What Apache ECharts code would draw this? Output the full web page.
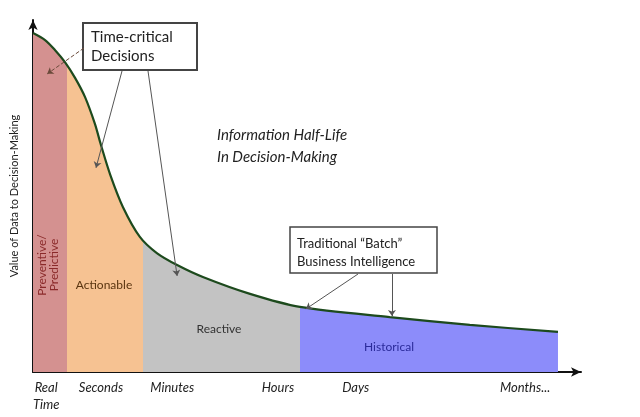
<!DOCTYPE html>
<html>
<head>
<meta charset="utf-8">
<script src="https://cdn.jsdelivr.net/npm/echarts@6/dist/echarts.min.js"></script>
<style>
  html, body { margin: 0; padding: 0; background: #fff; }
  #halfLifeView { width: 640px; height: 417px; }
</style>
</head>
<body>
<div id="halfLifeView"></div>
<script>
// curve of value vs. time (x: 0..100 along the time axis, y: 0..100 value)
const curveX = [0, 2.2, 4.0, 5.8, 7.7, 9.5, 11.3, 12.4, 14.1, 16.4, 19.5, 22.6, 26.3, 31.0, 39.6, 48.7, 65.1, 79.7, 95.8]
const curveY = [96.3, 94.3, 91.5, 88.1, 83.5, 78.1, 70.5, 64.5, 56.0, 46.9, 38.4, 33.8, 30.4, 27.0, 22.2, 18.5, 15.6, 13.4, 11.4]

// band edges along x (Preventive, Actionable, Reactive, Historical)
const bandEdges = [0, 6.2, 20.1, 48.7, 95.8]
const bandColors = ['#d49190', '#f6c292', '#c3c3c3', '#8c8cfa']

// time axis labels
const tickNames = ['Real\nTime', 'Seconds', 'Minutes', 'Hours', 'Days', 'Months...']
const tickPos = [2.4, 12.4, 25.4, 44.7, 58.9, 89.8]

const font = 'Lato, "Open Sans", sans-serif'

let chart = echarts.init(document.getElementById('halfLifeView'))
const curve = curveX.map((x, i) => [x, curveY[i]])

let option = {
  animation: false,
  grid: { left: 33, right: 59, top: 20, bottom: 45 },
  xAxis: {
    type: 'value',
    min: 0,
    max: 100,
    splitLine: { show: false },
    axisLine: { lineStyle: { color: '#111', width: 2 }, symbol: ['none', 'arrow'], symbolSize: [7, 10] },
    axisTick: { show: false },
    axisLabel: {
      customValues: tickPos,
      formatter: v => tickNames[tickPos.indexOf(v)] || '',
      fontFamily: font,
      fontStyle: 'italic',
      fontSize: 13,
      color: '#222',
      lineHeight: 17,
      margin: 7,
      verticalAlign: 'top'
    }
  },
  yAxis: {
    type: 'value',
    min: 0,
    max: 100,
    splitLine: { show: false },
    axisLine: { show: true, lineStyle: { color: '#111', width: 2 }, symbol: ['none', 'arrow'], symbolSize: [7, 10] },
    axisTick: { show: false },
    axisLabel: { show: false },
    name: 'Value of Data to Decision-Making',
    nameLocation: 'middle',
    nameGap: 13,
    nameTextStyle: { fontFamily: font, fontSize: 11, color: '#222' }
  },
  visualMap: {
    show: false,
    type: 'piecewise',
    dimension: 0,
    seriesIndex: 0,
    pieces: bandColors.map((c, i) => ({ min: bandEdges[i], max: bandEdges[i + 1], color: c }))
  },
  series: [
    {
      type: 'line',
      data: curve,
      smooth: 0.3,
      showSymbol: false,
      lineStyle: { width: 0 },
      areaStyle: { opacity: 1 }
    },
    {
      type: 'line',
      data: curve,
      smooth: 0.3,
      showSymbol: false,
      lineStyle: { color: '#1d4a1d', width: 2.2 },
      markLine: {
        silent: true,
        symbol: ['none', 'arrow'],
        symbolSize: 6,
        label: { show: false },
        lineStyle: { color: '#555', width: 1, type: 'solid' },
        data: [
          [{ x: 84, y: 48, lineStyle: { type: 'dashed', color: '#6a4a3a' } }, { coord: [2.6, 84.7] }],
          [{ x: 122, y: 71 }, { coord: [11.5, 58.0] }],
          [{ x: 148, y: 71 }, { coord: [26.3, 27.3] }],
          [{ x: 358, y: 274 }, { coord: [49.8, 17.9] }],
          [{ x: 392, y: 274 }, { coord: [65.5, 15.9] }]
        ]
      }
    }
  ],
  graphic: [
    {
      type: 'rect', shape: { x: 83, y: 23, width: 114, height: 47 },
      style: { fill: '#fff', stroke: '#444', lineWidth: 2 }
    },
    {
      type: 'text', left: 91, top: 28,
      style: { text: 'Time-critical\nDecisions', font: '15px ' + font, fill: '#222', lineHeight: 19 }
    },
    {
      type: 'rect', shape: { x: 290, y: 227, width: 147, height: 46 },
      style: { fill: '#fff', stroke: '#444', lineWidth: 1.5 }
    },
    {
      type: 'text', left: 297, top: 235,
      style: { text: 'Traditional \u201cBatch\u201d\nBusiness Intelligence', font: '13px ' + font, fill: '#222', lineHeight: 18 }
    },
    {
      type: 'text', left: 217, top: 124,
      style: { text: 'Information Half-Life\nIn Decision-Making', font: 'italic 15px ' + font, fill: '#222', lineHeight: 22 }
    },
    {
      type: 'text', x: 48, y: 265, rotation: Math.PI / 2, z: 100,
      style: { text: 'Preventive/\nPredictive', font: '12px ' + font, fill: '#8a2a2a', align: 'center', verticalAlign: 'middle', lineHeight: 11.5 }
    },
    {
      type: 'text', x: 104, y: 285, z: 100,
      style: { text: 'Actionable', font: '12px ' + font, fill: '#5a3510', align: 'center', verticalAlign: 'middle' }
    },
    {
      type: 'text', x: 219, y: 329, z: 100,
      style: { text: 'Reactive', font: '12px ' + font, fill: '#333', align: 'center', verticalAlign: 'middle' }
    },
    {
      type: 'text', x: 389, y: 347, z: 100,
      style: { text: 'Historical', font: '12px ' + font, fill: '#2a2a9a', align: 'center', verticalAlign: 'middle' }
    }
  ]
}
chart.setOption(option)
</script>
</body>
</html>
